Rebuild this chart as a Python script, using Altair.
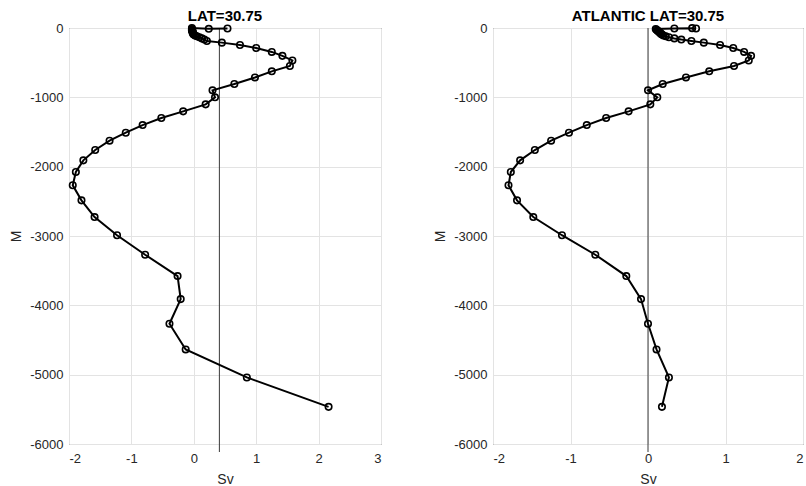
import altair as alt
import pandas as pd

# ---- data ----
depth_left = [8, 12, 0, 15, 25, 35, 45, 55, 65, 75, 85, 95, 107, 120, 134, 150, 167, 187,
              211, 245, 289, 345, 402, 468, 548, 625, 713, 808, 899,
              1000, 1101, 1202, 1298, 1400, 1510, 1625, 1760, 1909, 2077, 2268, 2486, 2727, 2989,
              3270, 3578, 3910, 4266, 4636, 5040, 5464]
sv_left = [0.54, 0.24, -0.03, -0.03, -0.03, -0.03, -0.02, -0.02, -0.02, -0.01, -0.01, 0.0,
           0.02, 0.05, 0.09, 0.13, 0.17, 0.21,
           0.45, 0.74, 1.00, 1.25, 1.42, 1.58, 1.54, 1.25, 0.98, 0.65, 0.30,
           0.34, 0.19, -0.17, -0.52, -0.82, -1.09, -1.35, -1.58, -1.77, -1.89, -1.94, -1.80, -1.59, -1.23,
           -0.78, -0.26, -0.21, -0.39, -0.13, 0.85, 2.16]

depth_right = [8, 2, 8, 15, 25, 35, 45, 55, 65, 75, 85, 95, 107, 120, 134, 150, 167, 187,
               211, 245, 289, 345, 402, 468, 548, 625, 713, 808, 899,
               1000, 1101, 1202, 1298, 1400, 1510, 1625, 1760, 1909, 2077, 2268, 2486, 2727, 2989,
               3270, 3578, 3910, 4266, 4636, 5040, 5464]
sv_right = [0.62, 0.57, 0.34, 0.10, 0.11, 0.12, 0.13, 0.14, 0.15, 0.16, 0.17, 0.18,
            0.20, 0.23, 0.27, 0.34, 0.43, 0.56,
            0.72, 0.93, 1.10, 1.24, 1.33, 1.30, 1.11, 0.79, 0.49, 0.19, 0.00,
            0.12, 0.03, -0.25, -0.54, -0.79, -1.02, -1.25, -1.46, -1.65, -1.77, -1.80, -1.69, -1.48, -1.11,
            -0.68, -0.28, -0.09, 0.00, 0.11, 0.27, 0.18]

titles = ["LAT=30.75", "ATLANTIC LAT=30.75"]
x_domains = [[-2, 3], [-2, 2]]
ref_lines = [0.41, 0.0]
y_ticks = [-6000, -5000, -4000, -3000, -2000, -1000, 0]

FONT = "Liberation Sans"
TXT = "#262626"
H = 416
LBL = "'' + datum.value"


def panel(depths, svs, title, xdom, ref, width):
    df = pd.DataFrame({"order": list(range(len(depths))),
                       "sv": svs,
                       "m": [-d for d in depths]})
    xticks = list(range(xdom[0], xdom[1] + 1))
    xenc = alt.X("sv:Q", title="Sv",
                 scale=alt.Scale(domain=xdom, nice=False, zero=False),
                 axis=alt.Axis(values=xticks, labelExpr=LBL, labelPadding=8, titlePadding=7))
    yenc = alt.Y("m:Q", title="M",
                 scale=alt.Scale(domain=[-6000, 0], nice=False),
                 axis=alt.Axis(values=y_ticks, labelExpr=LBL, labelPadding=6,
                               titlePadding=6, minExtent=40, maxExtent=40))
    base = alt.Chart(df)
    line = base.mark_line(color="black", strokeWidth=2).encode(x=xenc, y=yenc, order="order:Q")
    pts = base.mark_point(shape="circle", filled=False, color="black", strokeWidth=1.6,
                          size=42, opacity=1).encode(x=xenc, y=yenc)
    rule = alt.Chart(pd.DataFrame({"a": [0]})).mark_rule(color="#3a3a3a", strokeWidth=1).encode(
        x=alt.datum(ref), y=alt.value(0), y2=alt.value(H + 8))
    ttl = alt.Chart(pd.DataFrame({"t": [title]})).mark_text(
        font=FONT, fontSize=15, fontWeight="bold", color="black",
        align="center", baseline="middle").encode(
        text="t:N", x=alt.value(width / 2), y=alt.value(-12.5))
    return alt.layer(rule, line, pts, ttl).properties(width=width, height=H)


left = panel(depth_left, sv_left, titles[0], x_domains[0], ref_lines[0], 312)
right = panel(depth_right, sv_right, titles[1], x_domains[1], ref_lines[1], 310)

chart = alt.hconcat(left, right, spacing=50).properties(
    background="white",
    padding={"left": 8, "top": 8, "right": 0, "bottom": 0},
).configure_view(
    stroke="#404040", strokeWidth=1
).configure_axis(
    grid=True, gridColor="#e3e3e3", gridWidth=1,
    domain=False, ticks=False,
    labelFont=FONT, labelFontSize=13, labelColor=TXT,
    titleFont=FONT, titleFontSize=14, titleColor=TXT, titleFontWeight="normal",
)

chart.save("out.html", embed_options={"renderer": "svg", "actions": False})
